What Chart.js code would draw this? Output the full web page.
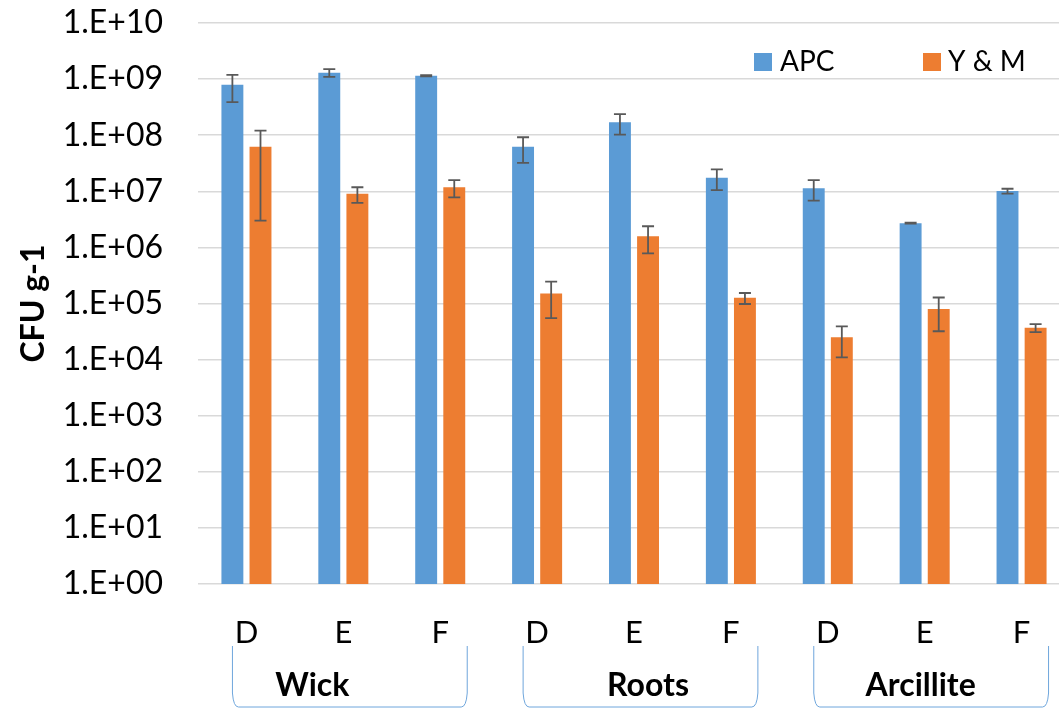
<!DOCTYPE html>
<html lang="en">
<head>
    <meta charset="UTF-8">
    <title>CFU g-1</title>
    <script src="https://cdn.jsdelivr.net/npm/chart.js"></script>
    <style>
        html, body { margin: 0; padding: 0; background: #fff; overflow: hidden; }
        /* canvas a bit wider than the window: the plot area runs past the right edge like the original */
        .wrap { width: 1071px; height: 709px; }
    </style>
</head>
<body>
    <div class="wrap"><canvas id="cfuChart"></canvas></div>
    <script>
        const categories = ['D', 'E', 'F', 'D', 'E', 'F', 'D', 'E', 'F'];
        const groups = ['Wick', 'Roots', 'Arcillite'];
        const apc = [7.9e8, 1.3e9, 1.15e9, 6.2e7, 1.7e8, 1.75e7, 1.13e7, 2.7e6, 1.01e7];
        const apcErr = [4.0e8, 2.0e8, 3.0e7, 3.0e7, 6.8e7, 7.0e6, 4.5e6, 5.0e4, 1.0e6];
        const ym = [6.2e7, 9.0e6, 1.18e7, 1.5e5, 1.58e6, 1.26e5, 2.5e4, 8.0e4, 3.7e4];
        const ymErr = [5.9e7, 2.8e6, 4.0e6, 9.5e4, 8.0e5, 2.8e4, 1.4e4, 4.8e4, 6.0e3];
        const yTicks = [1, 1e1, 1e2, 1e3, 1e4, 1e5, 1e6, 1e7, 1e8, 1e9, 1e10];

        const FONT = 'Lato, "Open Sans", sans-serif';
        const errors = [apcErr, ymErr];

        // error bars drawn from the value scale
        const errorBars = {
            id: 'errorBars',
            afterDatasetsDraw(chart) {
                const ctx = chart.ctx;
                const y = chart.scales.y;
                ctx.save();
                ctx.strokeStyle = '#595959';
                ctx.lineWidth = 1.8;
                chart.data.datasets.forEach((ds, di) => {
                    const meta = chart.getDatasetMeta(di);
                    meta.data.forEach((bar, i) => {
                        const v = ds.data[i], e = errors[di][i];
                        const top = y.getPixelForValue(v + e);
                        const bot = y.getPixelForValue(Math.max(v - e, 1));
                        ctx.beginPath();
                        ctx.moveTo(bar.x, top); ctx.lineTo(bar.x, bot);
                        ctx.moveTo(bar.x - 6, top); ctx.lineTo(bar.x + 6, top);
                        ctx.moveTo(bar.x - 6, bot); ctx.lineTo(bar.x + 6, bot);
                        ctx.stroke();
                    });
                });
                ctx.restore();
            }
        };

        // brackets + group names under the category labels, and the legend inside the plot
        const groupLabels = {
            id: 'groupLabels',
            afterDraw(chart) {
                const ctx = chart.ctx;
                const x = chart.scales.x;
                const nudge = [-31, 14, -4];
                const top = 646, bottom = 707;
                ctx.save();
                ctx.strokeStyle = '#6fa6dc';
                ctx.lineWidth = 1;
                groups.forEach((g, gi) => {
                    const first = gi * 3, last = gi * 3 + 2;
                    const x1 = x.getPixelForValue(first) - 14;
                    const x2 = x.getPixelForValue(last) + 27;
                    ctx.beginPath();
                    ctx.moveTo(x1, top);
                    ctx.lineTo(x1, bottom - 14);
                    ctx.quadraticCurveTo(x1 + 1, bottom, x1 + 6, bottom);
                    ctx.lineTo(x2 - 6, bottom);
                    ctx.quadraticCurveTo(x2 - 1, bottom, x2, bottom - 14);
                    ctx.lineTo(x2, top);
                    ctx.stroke();

                    ctx.fillStyle = '#000';
                    ctx.font = 'bold 32px ' + FONT;
                    ctx.textAlign = 'center';
                    ctx.textBaseline = 'middle';
                    ctx.fillText(g, x.getPixelForValue(first + 1) + nudge[gi], 686);
                });

                // legend
                const items = [[754, 780], [923, 948]];
                ctx.font = '28px ' + FONT;
                ctx.textAlign = 'left';
                ctx.textBaseline = 'middle';
                chart.data.datasets.forEach((ds, di) => {
                    const [sx, tx] = items[di];
                    ctx.fillStyle = ds.backgroundColor;
                    ctx.fillRect(sx, 53, 18, 18);
                    ctx.fillStyle = '#000';
                    ctx.fillText(ds.label, tx, 62);
                });
                ctx.restore();
            }
        };

        new Chart(document.getElementById('cfuChart'), {
            type: 'bar',
            data: {
                labels: categories,
                datasets: [
                    { label: 'APC', data: apc, backgroundColor: '#5b9bd5' },
                    { label: 'Y & M', data: ym, backgroundColor: '#ed7d31' }
                ]
            },
            options: {
                responsive: true,
                maintainAspectRatio: false,
                animation: false,
                categoryPercentage: 0.58,
                barPercentage: 0.78,
                layout: { padding: { top: 23, right: 1, left: 0, bottom: 0 } },
                plugins: {
                    legend: { display: false },
                    tooltip: { enabled: false }
                },
                scales: {
                    x: {
                        grid: { display: false, drawTicks: false },
                        border: { display: false },
                        ticks: {
                            color: '#000',
                            font: { family: FONT, size: 31 },
                            padding: 30
                        },
                        afterFit: (scale) => { scale.height = 125; }
                    },
                    y: {
                        type: 'logarithmic',
                        min: 1,
                        max: 1e10,
                        afterBuildTicks: (scale) => {
                            scale.ticks = yTicks.map(v => ({ value: v }));
                        },
                        afterFit: (scale) => {
                            scale.width = 198;
                            scale.paddingTop = 0;
                            scale.paddingBottom = 0;
                        },
                        grid: { color: '#d9d9d9', lineWidth: 1.5, drawTicks: false },
                        border: { display: false },
                        ticks: {
                            color: '#000',
                            font: { family: FONT, size: 32 },
                            padding: 35,
                            callback: (v) => {
                                const p = Math.round(Math.log10(v));
                                return '1.E+' + String(p).padStart(2, '0');
                            }
                        },
                        title: {
                            display: true,
                            text: 'CFU g-1',
                            color: '#000',
                            font: { family: FONT, size: 32, weight: 'bold' },
                            padding: { top: 14, bottom: 0 }
                        }
                    }
                }
            },
            plugins: [errorBars, groupLabels]
        });
    </script>
</body>
</html>
